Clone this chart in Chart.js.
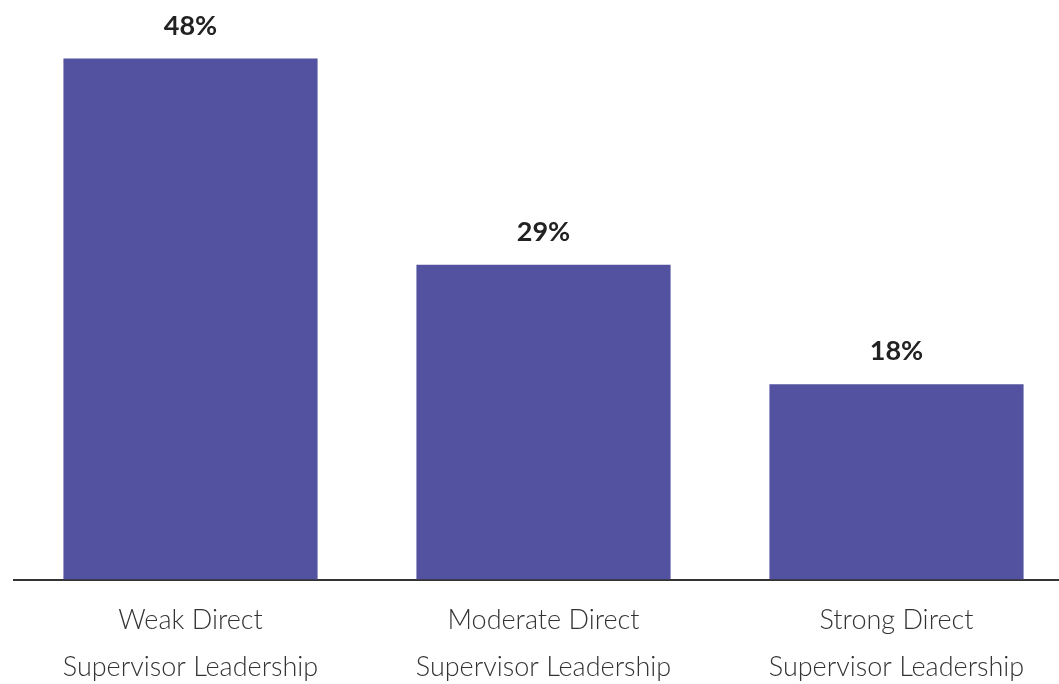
<!DOCTYPE html>
<html>
<head>
<meta charset="utf-8">
<script src="https://cdn.jsdelivr.net/npm/chart.js@4/dist/chart.umd.min.js"></script>
<style>
	html, body { margin: 0; padding: 0; background: #fff; overflow: hidden; }
	.wrap { width: 1073px; height: 700px; }
</style>
</head>
<body>
<div class="wrap"><canvas id="myChart"></canvas></div>
<script>
const ctx = document.getElementById('myChart');

const tags = [
	['Weak Direct', 'Supervisor Leadership'],
	['Moderate Direct', 'Supervisor Leadership'],
	['Strong Direct', 'Supervisor Leadership']
];
const values = [48, 29, 18];

// value labels above the bars
const topLabels = {
	id: 'topLabels',
	afterDatasetsDraw(chart) {
		const c = chart.ctx;
		const meta = chart.getDatasetMeta(0);
		c.save();
		c.fillStyle = '#222';
		c.textAlign = 'center';
		c.textBaseline = 'alphabetic';
		c.font = 'bold 27px Lato';
		meta.data.forEach((bar, i) => {
			c.fillText(values[i] + '%', bar.x, bar.y - 24);
		});
		c.restore();
	}
};

new Chart(ctx, {
	type: 'bar',
	data: {
		labels: tags,
		datasets: [{
			data: values,
			backgroundColor: '#5352a0',
			barPercentage: 0.72,
			categoryPercentage: 1
		}]
	},
	plugins: [topLabels],
	options: {
		responsive: true,
		maintainAspectRatio: false,
		animation: false,
		layout: {
			padding: { left: 14, top: 0, right: 0, bottom: 0 }
		},
		plugins: {
			legend: false,
			tooltip: { enabled: false }
		},
		scales: {
			y: {
				display: false,
				min: 0,
				max: 53.4
			},
			x: {
				grid: { display: false },
				border: { display: true, color: '#333', width: 2 },
				ticks: {
					color: '#333',
					padding: 9,
					maxRotation: 0,
					font: { family: 'Lato', size: 27, weight: 300, lineHeight: 1.75 }
				}
			}
		}
	}
});
</script>
</body>
</html>
